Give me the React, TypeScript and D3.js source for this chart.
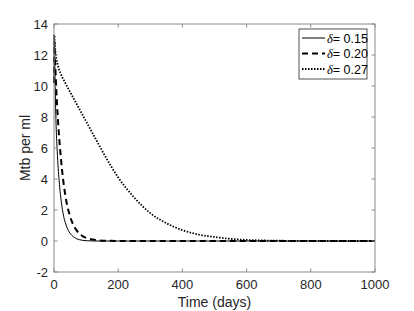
import { useEffect, useRef } from 'react'
import * as d3 from 'd3'

// time samples (days), shared by the three runs
const days = [0, 1, 2, 3, 5, 7, 10, 13, 16, 20, 25, 30, 35, 40, 50, 60, 70, 80, 90, 100, 120, 140, 160, 200, 250, 300, 350, 400, 450, 500, 550, 600, 650, 700, 800, 900, 1000]

const mtbDelta015 = [10.2, 12.9, 12.0, 10.8, 8.6, 7.2, 5.8, 4.7, 3.9, 3.0, 2.2, 1.6, 1.2, 0.9, 0.5, 0.28, 0.15, 0.08, 0.04, 0.02, 0.005, 0, 0, 0, 0, 0, 0, 0, 0, 0, 0, 0, 0, 0, 0, 0, 0]
const mtbDelta020 = [10.2, 12.9, 12.4, 11.8, 10.8, 9.8, 8.6, 7.6, 6.7, 5.7, 4.6, 3.7, 3.0, 2.4, 1.6, 1.05, 0.7, 0.45, 0.3, 0.2, 0.09, 0.04, 0.015, 0.003, 0, 0, 0, 0, 0, 0, 0, 0, 0, 0, 0, 0, 0]
const mtbDelta027 = [13.0, 13.3, 13.0, 12.6, 12.1, 11.8, 11.5, 11.25, 11.05, 10.85, 10.6, 10.4, 10.2, 10.0, 9.62, 9.24, 8.86, 8.48, 8.1, 7.72, 6.96, 6.2, 5.45, 4.1, 2.8, 1.8, 1.15, 0.7, 0.42, 0.26, 0.14, 0.07, 0.035, 0.018, 0.005, 0.001, 0]

const deltaLabels = ['0.15', '0.20', '0.27']
const xTicks = [0, 200, 400, 600, 800, 1000]
const yTicks = [-2, 0, 2, 4, 6, 8, 10, 12, 14]

const lineStyles = [
  { width: 1, dash: null },
  { width: 2, dash: '6,4' },
  { width: 1.8, dash: '1.5,1.5' },
]

export default function App() {
  const svgRef = useRef<SVGSVGElement>(null)
  const width = 414
  const height = 311

  useEffect(() => {
    if (!svgRef.current) return
    const svg = d3.select(svgRef.current)
    svg.selectAll('*').remove()

    const margin = { top: 24, right: 39, bottom: 39, left: 54 }
    const x = d3.scaleLinear().domain([0, 1000]).range([margin.left, width - margin.right])
    const y = d3.scaleLinear().domain([-2, 14]).range([height - margin.bottom, margin.top])

    const axisColor = '#8a8a8a'
    const textColor = '#262626'
    const font = 'Liberation Sans, Arial, Helvetica, sans-serif'

    svg.append('rect').attr('width', width).attr('height', height).attr('fill', '#fff')

    // curves
    const series = [mtbDelta015, mtbDelta020, mtbDelta027]
    const line = d3.line<number>()
      .x((_, i) => x(days[i]))
      .y(d => y(d))
      .curve(d3.curveMonotoneX)

    series.forEach((vals, k) => {
      svg.append('path')
        .datum(vals)
        .attr('d', line)
        .attr('fill', 'none')
        .attr('stroke', '#000')
        .attr('stroke-width', lineStyles[k].width)
        .attr('stroke-dasharray', lineStyles[k].dash)
    })

    // box
    const x0 = x(0), x1 = x(1000), y0 = y(-2), y1 = y(14)
    svg.append('rect')
      .attr('x', x0).attr('y', y1)
      .attr('width', x1 - x0).attr('height', y0 - y1)
      .attr('fill', 'none')
      .attr('stroke', axisColor)
      .attr('stroke-width', 1)

    // inward ticks on all four sides
    const tl = 3.5
    xTicks.forEach(t => {
      svg.append('line').attr('x1', x(t)).attr('x2', x(t)).attr('y1', y0).attr('y2', y0 - tl).attr('stroke', axisColor)
      svg.append('line').attr('x1', x(t)).attr('x2', x(t)).attr('y1', y1).attr('y2', y1 + tl).attr('stroke', axisColor)
      svg.append('text')
        .attr('x', x(t)).attr('y', y0 + 17)
        .attr('text-anchor', 'middle')
        .attr('font-family', font).attr('font-size', 13)
        .attr('fill', textColor)
        .text(t)
    })
    yTicks.forEach(t => {
      svg.append('line').attr('x1', x0).attr('x2', x0 + tl).attr('y1', y(t)).attr('y2', y(t)).attr('stroke', axisColor)
      svg.append('line').attr('x1', x1).attr('x2', x1 - tl).attr('y1', y(t)).attr('y2', y(t)).attr('stroke', axisColor)
      svg.append('text')
        .attr('x', x0 - 6).attr('y', y(t) + 4.5)
        .attr('text-anchor', 'end')
        .attr('font-family', font).attr('font-size', 13)
        .attr('fill', textColor)
        .text(t)
    })

    // axis labels
    svg.append('text')
      .attr('x', (x0 + x1) / 2).attr('y', 307)
      .attr('text-anchor', 'middle')
      .attr('font-family', font).attr('font-size', 14)
      .attr('fill', textColor)
      .text('Time (days)')
    svg.append('text')
      .attr('transform', `translate(30,${(y0 + y1) / 2}) rotate(-90)`)
      .attr('text-anchor', 'middle')
      .attr('font-family', font).attr('font-size', 14)
      .attr('fill', textColor)
      .text('Mtb per ml')

    // legend
    const lg = svg.append('g')
    lg.append('rect')
      .attr('x', 299).attr('y', 29)
      .attr('width', 68).attr('height', 50)
      .attr('fill', '#fff')
      .attr('stroke', '#262626')
      .attr('stroke-width', 0.8)
    deltaLabels.forEach((lab, k) => {
      const ry = 38 + k * 15.5
      lg.append('line')
        .attr('x1', 302).attr('x2', 325)
        .attr('y1', ry).attr('y2', ry)
        .attr('stroke', '#000')
        .attr('stroke-width', lineStyles[k].width)
        .attr('stroke-dasharray', lineStyles[k].dash)
      const t = lg.append('text')
        .attr('x', 327).attr('y', ry + 4.5)
        .attr('font-family', font).attr('font-size', 12.5)
        .attr('fill', '#000')
      t.append('tspan').attr('font-family', 'Liberation Serif, Times New Roman, serif').attr('font-style', 'italic').text('δ')
      t.append('tspan').text(`= ${lab}`)
    })
  }, [])

  return (
    <svg
      ref={svgRef}
      width={width}
      height={height}
      style={{ position: 'absolute', left: 0, top: 0 }}
    />
  )
}
